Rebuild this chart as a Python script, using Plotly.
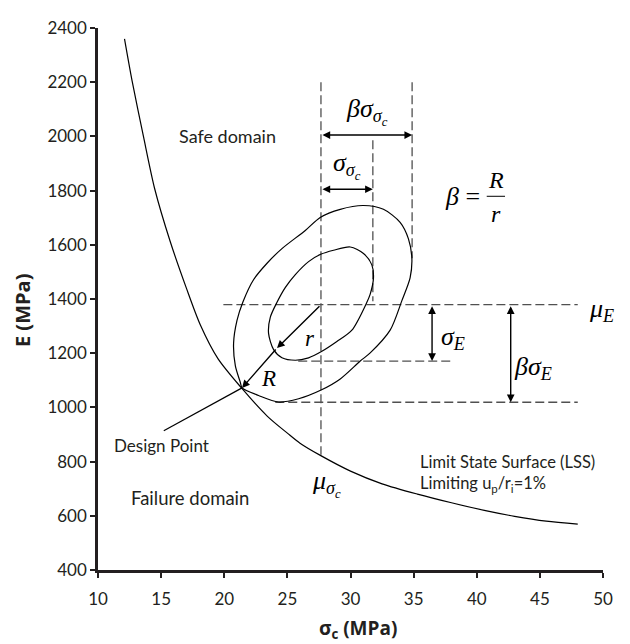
import plotly.graph_objects as go

# ---------------- data ----------------
# Limit state surface (LSS)
lss_sc = [12.1, 12.7, 13.6, 14.5, 15.7, 17.0, 18.1, 19.5, 21.4, 23.4, 25.0, 26.0, 27.65,
          30.0, 32.5, 35.3, 38.0, 40.6, 43.0, 45.5, 48.0]
lss_E = [2360, 2205, 2000, 1805, 1615, 1440, 1305, 1180, 1070, 968, 905, 868, 822,
         765, 718, 680, 648, 620, 598, 580, 569]

# Outer (beta) ellipse
outer_sc = [21.41, 22.72, 24.30, 25.89, 27.67, 29.19, 30.77, 31.56, 33.14, 34.07, 34.72, 34.86,
            34.59, 33.93, 32.61, 31.03, 29.19, 27.60, 26.42, 24.57, 23.39, 22.33, 21.47,
            21.01, 20.74, 20.88, 21.27, 21.41]
outer_E = [1072, 1044, 1020, 1032, 1064, 1105, 1171, 1201, 1285, 1394, 1478, 1550,
           1622, 1683, 1731, 1745, 1731, 1701, 1653, 1586, 1532, 1472, 1388,
           1321, 1237, 1153, 1093, 1072]

# Inner (one-sigma) ellipse
inner_sc = [23.51, 23.91, 24.57, 25.63, 26.68, 27.70, 28.92, 30.11, 31.27, 31.56, 31.82, 31.69,
            31.03, 29.98, 28.66, 27.64, 26.68, 25.63, 24.83, 24.18, 23.65, 23.51]
inner_E = [1273, 1213, 1183, 1174, 1183, 1206, 1243, 1285, 1385, 1418, 1478, 1526,
           1568, 1592, 1580, 1565, 1538, 1490, 1442, 1388, 1333, 1273]

# key statistics / construction values
mu_sc = 27.66
sd_sc_edge = 31.77       # mu + sigma
beta_sc_edge = 34.88     # mu + beta*sigma
mu_E = 1379
sd_E_edge = 1171         # mu - sigma
beta_E_edge = 1019       # mu - beta*sigma
design_pt = (21.41, 1072)
r_pt = (24.18, 1219)
pointer_start = (15.21, 914)

# dashed construction lines: (x0, y0, x1, y1)
dashed_lines = [
    (mu_sc, 2200, mu_sc, 825),
    (sd_sc_edge, 1986, sd_sc_edge, 1392),
    (beta_sc_edge, 2200, beta_sc_edge, 1550),
    (19.93, mu_E, 48.0, mu_E),
    (25.86, sd_E_edge, 38.02, sd_E_edge),
    (24.04, beta_E_edge, 48.0, beta_E_edge),
]

x_ticks = [10, 15, 20, 25, 30, 35, 40, 45, 50]
y_ticks = [400, 600, 800, 1000, 1200, 1400, 1600, 1800, 2000, 2200, 2400]

INK = "#231f20"
SANS = "Lato, 'Open Sans', sans-serif"
SERIF = "'Liberation Serif', 'DejaVu Serif', serif"

fig = go.Figure()

# dashed lines
for (x0, y0, x1, y1) in dashed_lines:
    fig.add_trace(go.Scatter(x=[x0, x1], y=[y0, y1], mode="lines",
                             line=dict(color="#505050", width=1.3, dash="9px,4px"),
                             hoverinfo="skip", showlegend=False))

fig.add_trace(go.Scatter(x=lss_sc, y=lss_E, mode="lines",
                         line=dict(color="black", width=1.2, shape="spline", smoothing=0.8),
                         showlegend=False))
fig.add_trace(go.Scatter(x=outer_sc, y=outer_E, mode="lines",
                         line=dict(color="black", width=1.2, shape="spline", smoothing=0.8),
                         showlegend=False))
fig.add_trace(go.Scatter(x=inner_sc, y=inner_E, mode="lines",
                         line=dict(color="black", width=1.2, shape="spline", smoothing=0.8),
                         showlegend=False))
# pointer line to the design point
fig.add_trace(go.Scatter(x=[pointer_start[0], design_pt[0]], y=[pointer_start[1], design_pt[1]],
                         mode="lines", line=dict(color="black", width=1.2), showlegend=False))

annotations = []


def arrow(x_head, y_head, x_tail, y_tail, both=False):
    annotations.append(dict(x=x_head, y=y_head, ax=x_tail, ay=y_tail, xref="x", yref="y",
                            axref="x", ayref="y", text="", showarrow=True,
                            arrowhead=2, arrowsize=1.1, arrowwidth=1.4, arrowcolor="black",
                            arrowside="end+start" if both else "end", standoff=0, startstandoff=0))


arrow(r_pt[0], r_pt[1], mu_sc, mu_E)
arrow(design_pt[0], design_pt[1], r_pt[0], r_pt[1])
arrow(beta_sc_edge, 2005, mu_sc, 2005, both=True)
arrow(sd_sc_edge, 1805, mu_sc, 1805, both=True)
arrow(36.46, sd_E_edge, 36.46, mu_E, both=True)
arrow(42.69, beta_E_edge, 42.69, mu_E, both=True)


def label(x, y, text, size=18, family=SANS, xanchor="center", color=INK, align="center"):
    annotations.append(dict(x=x, y=y, xref="x", yref="y", text=text, showarrow=False,
                            xanchor=xanchor, yanchor="middle", align=align,
                            font=dict(family=family, size=size, color=color)))


label(20.25, 2001, "Safe domain", size=18)
label(17.32, 665, "Failure domain", size=18.5)
label(15.02, 858, "Design Point", size=17)
label(35.38, 755, "Limit State Surface (LSS)<br>Limiting u<sub>p</sub>/r<sub>i</sub>=1%",
      size=16.5, xanchor="left", align="left")

label(31.3, 2092, "<i>βσ</i><sub><i>σ<sub>c</sub></i></sub>", size=26, family=SERIF, color="black")
label(29.72, 1893, "<i>σ</i><sub><i>σ<sub>c</sub></i></sub>", size=26, family=SERIF, color="black")
label(38.9, 1779, "<i>β</i> =", size=26, family=SERIF, color="black")
label(41.5, 1838, "<i>R</i>", size=24, family=SERIF, color="black")
label(41.5, 1715, "<i>r</i>", size=24, family=SERIF, color="black")
label(49.9, 1358, "<i>μ<sub>E</sub></i>", size=26, family=SERIF, color="black")
label(38.15, 1255, "<i>σ<sub>E</sub></i>", size=26, family=SERIF, color="black")
label(44.48, 1147, "<i>βσ<sub>E</sub></i>", size=26, family=SERIF, color="black")
label(26.76, 1255, "<i>r</i>", size=23, family=SERIF, color="black")
label(23.51, 1105, "<i>R</i>", size=23, family=SERIF, color="black")
label(28.1, 719, "<i>μ</i><sub><i>σ<sub>c</sub></i></sub>", size=26, family=SERIF, color="black")

# axis titles
annotations.append(dict(x=-0.1494, y=0.4788, xref="paper", yref="paper", textangle=-90,
                        xanchor="center", yanchor="middle",
                        text="<b>E (MPa)</b>", showarrow=False,
                        font=dict(family="'Open Sans', sans-serif", size=20, color=INK)))
annotations.append(dict(x=0.5153, y=-0.1084, xref="paper", yref="paper",
                        xanchor="center", yanchor="middle",
                        text="<b>σ<sub>c</sub> (MPa)</b>", showarrow=False,
                        font=dict(family="'Open Sans', sans-serif", size=19, color=INK)))

# the page body adds an 8px offset, so the figure is 8px smaller than the window
fig.update_layout(
    width=622, height=636,
    margin=dict(l=89.5, r=27, t=8.5, b=74),
    plot_bgcolor="white", paper_bgcolor="white",
    annotations=annotations,
    shapes=[dict(type="line", xref="x", yref="y", x0=40.79, x1=42.24, y0=1779, y1=1779,
                 line=dict(color="black", width=1))],
    showlegend=False,
)
fig.update_xaxes(range=[10, 50], tickvals=x_ticks, showgrid=False, zeroline=False,
                 showline=True, linecolor=INK, linewidth=2.5, ticks="outside", ticklen=5,
                 tickwidth=1.5, tickcolor=INK, ticklabelstandoff=7, ticklabeloverflow="allow",
                 tickfont=dict(family=SANS, size=17, color=INK))
fig.update_yaxes(range=[400, 2400], tickvals=y_ticks, showgrid=False, zeroline=False,
                 showline=True, linecolor=INK, linewidth=2.5, ticks="outside", ticklen=5,
                 tickwidth=1.5, tickcolor=INK, ticklabeloverflow="allow",
                 tickfont=dict(family=SANS, size=17, color=INK))

fig.write_html("out.html")
